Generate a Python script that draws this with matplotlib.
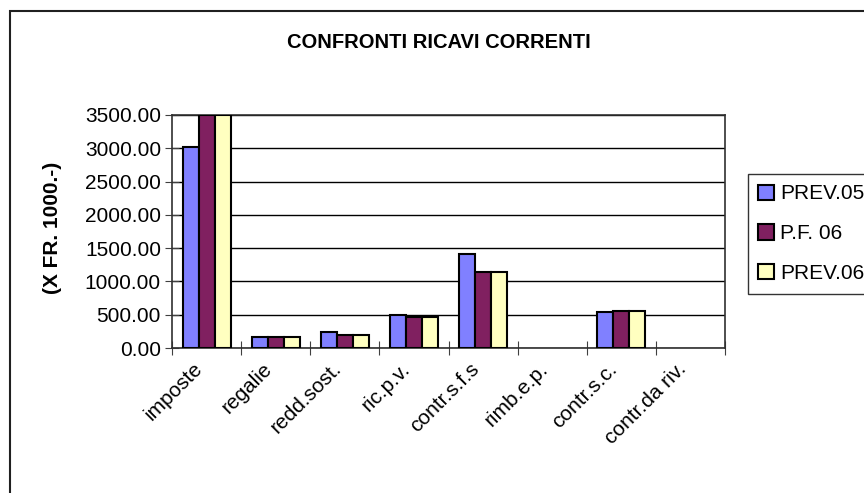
import matplotlib
matplotlib.use("Agg")
import matplotlib.pyplot as plt
import numpy as np
from matplotlib.patches import Rectangle

plt.rcParams["font.family"] = ["Liberation Sans", "DejaVu Sans"]

categories = ["imposte", "regalie", "redd.sost.", "ric.p.v.", "contr.s.f.s",
              "rimb.e.p.", "contr.s.c.", "contr.da riv."]
series_names = ["PREV.05", "P.F. 06", "PREV.06"]
prev05 = [3020, 170, 235, 500, 1405, 0, 535, 0]
pf06 = [3500, 170, 200, 470, 1135, 0, 560, 0]
prev06 = [3500, 170, 200, 470, 1135, 0, 560, 0]
colors = ["#8080FF", "#802060", "#FFFFC0"]
yticks = [0, 500, 1000, 1500, 2000, 2500, 3000, 3500]

W, H = 864, 493
fig = plt.figure(figsize=(W / 100, H / 100), dpi=100)
ax = fig.add_axes([172 / W, 1 - 348 / H, (725 - 172) / W, (348 - 115) / H])

# outer chart frame (runs off the right and bottom edges)
fig.patches.append(Rectangle((10 / W, -0.2), 1.2, 1 - 11 / H + 0.2, transform=fig.transFigure,
                             fill=False, edgecolor="#202020", linewidth=1.5))

x = np.arange(len(categories)) + 0.5
bw = 0.232
for k, (vals, name) in enumerate(zip([prev05, pf06, prev06], series_names)):
    bars = ax.bar(x + (k - 1) * bw, vals, bw, color=colors[k], edgecolor="black",
                  linewidth=1.5, label=name, zorder=3)
    for b, v in zip(bars, vals):
        if v == 0:
            b.set_visible(False)  # empty categories show nothing

ax.set_xlim(0, len(categories))
ax.set_ylim(0, 3500)
ax.set_yticks(yticks)
ax.set_yticklabels([f"{v:.2f}" for v in yticks], fontsize=15)
ax.yaxis.grid(True, color="black", linewidth=1.0, zorder=0)
ax.set_axisbelow(True)

ax.set_xticks(np.arange(len(categories) + 1))
ax.set_xticklabels([])
ax.set_xticks(x, minor=True)
ax.set_xticklabels(categories, minor=True, rotation=45, ha="right", va="top", fontsize=15)
ax.tick_params(axis="x", which="minor", length=0, pad=8)
ax.tick_params(axis="x", which="major", direction="inout", length=10, color="#404040")
ax.tick_params(axis="y", direction="inout", length=10, color="#404040", pad=3)
for s in ax.spines.values():
    s.set_color("#303030")
    s.set_linewidth(1.2)

fig.text(439 / W, 1 - 42 / H, "CONFRONTI RICAVI CORRENTI", ha="center", va="center",
         fontsize=14.5, fontweight="bold")
fig.text(52 / W, 1 - 228 / H, "(X FR. 1000.-)", ha="center", va="center", rotation=90,
         fontsize=15, fontweight="bold")

leg = fig.legend(loc="upper left", bbox_to_anchor=(748 / W, 1 - 174 / H),
                 bbox_transform=fig.transFigure, fontsize=15, frameon=True, fancybox=False,
                 borderaxespad=0, handlelength=0.75, handleheight=0.75, handletextpad=0.3,
                 labelspacing=1.0, borderpad=0.5)
leg.get_frame().set_edgecolor("black")
leg.get_frame().set_linewidth(1.0)

fig.savefig("out.png", dpi=100)
